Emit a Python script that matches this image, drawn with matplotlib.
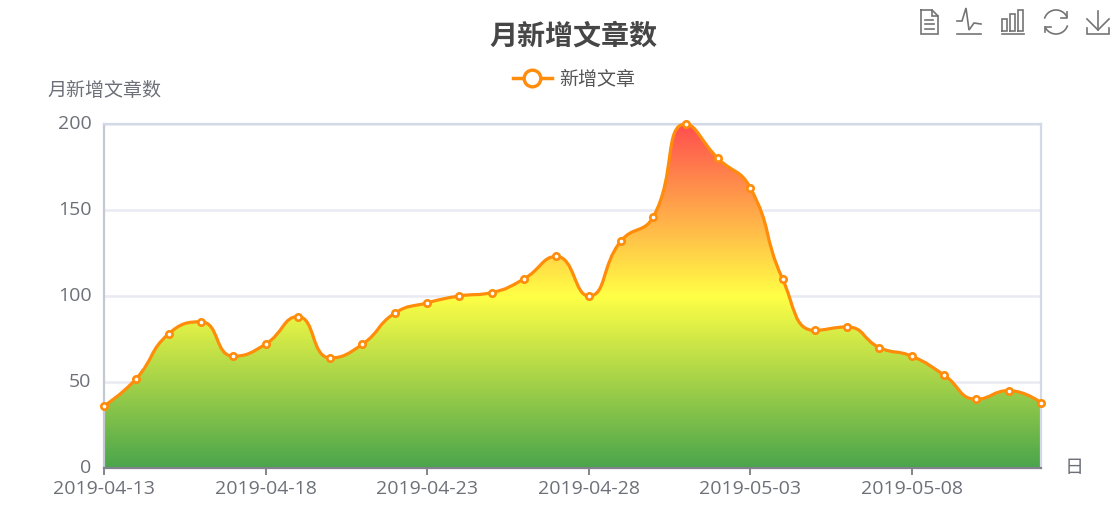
#!/usr/bin/env python3
import numpy as np
import matplotlib
matplotlib.use("Agg")
import matplotlib.pyplot as plt
from matplotlib.colors import LinearSegmentedColormap
from matplotlib.lines import Line2D
from matplotlib.patches import PathPatch
from matplotlib.path import Path

plt.rcParams["font.family"] = ["Noto Sans CJK SC", "DejaVu Sans"]

dates = [
    "2019-04-13", "2019-04-14", "2019-04-15", "2019-04-16", "2019-04-17", "2019-04-18",
    "2019-04-19", "2019-04-20", "2019-04-21", "2019-04-22", "2019-04-23", "2019-04-24",
    "2019-04-25", "2019-04-26", "2019-04-27", "2019-04-28", "2019-04-29", "2019-04-30",
    "2019-05-01", "2019-05-02", "2019-05-03", "2019-05-04", "2019-05-05", "2019-05-06",
    "2019-05-07", "2019-05-08", "2019-05-09", "2019-05-10", "2019-05-11", "2019-05-12",
]
counts = [36, 52, 78, 85, 65, 72, 88, 64, 72, 90, 96, 100, 102, 110, 123,
          100, 132, 146, 200, 180, 163, 110, 80, 82, 70, 65, 54, 40, 45, 38]
y_ticks = [0, 50, 100, 150, 200]

W, H = 1120, 513
LEFT, RIGHT, TOP, BOTTOM = 104, 1041, 124, 468
ORANGE = "#ff8c0a"
TEXT = "#6e7079"


def smooth_path(x, y, sx, sy, smooth=0.5):
    # echarts style bezier in pixel space, control points kept inside the neighbour box
    pts = np.column_stack([np.asarray(x, dtype=float) * sx, np.asarray(y, dtype=float) * sy])
    n = len(pts)
    verts = [tuple(pts[0])]
    codes = [Path.MOVETO]
    cp_out = pts[0]
    for i in range(1, n):
        p = pts[i]
        if i < n - 1:
            prev_p, next_p = pts[i - 1], pts[i + 1]
            v = (next_p - prev_p) * smooth
            len_prev = np.hypot(*(p - prev_p))
            len_next = np.hypot(*(next_p - p))
            r = len_next / (len_prev + len_next)
            next_out = np.clip(p + v * r, np.minimum(p, next_p), np.maximum(p, next_p))
            cp_in = p - (next_out - p) * len_prev / len_next
            cp_in = np.clip(cp_in, np.minimum(p, prev_p), np.maximum(p, prev_p))
            next_out = p + (p - cp_in) * len_next / len_prev
        else:
            cp_in = p
            next_out = p
        verts += [tuple(cp_out), tuple(cp_in), tuple(p)]
        codes += [Path.CURVE4] * 3
        cp_out = next_out
    verts = [(vx / sx, vy / sy) for vx, vy in verts]
    return verts, codes


fig = plt.figure(figsize=(W / 100, H / 100), dpi=100)
ax = fig.add_axes([LEFT / W, 1 - BOTTOM / H, (RIGHT - LEFT) / W, (BOTTOM - TOP) / H])

xs = np.arange(len(counts))
ax.set_xlim(0, len(counts) - 1)
ax.set_ylim(0, 200)

sx = (RIGHT - LEFT) / (len(counts) - 1)
sy = (BOTTOM - TOP) / 200
verts, codes = smooth_path(xs, counts, sx, sy)

# area under the curve, gradient red -> yellow -> green
cmap = LinearSegmentedColormap.from_list("area", ["#ff4f4f", "#ffff45", "#4aa54c"])
grad = np.linspace(0, 1, 256).reshape(-1, 1)
im = ax.imshow(grad, cmap=cmap, aspect="auto", extent=(0, len(counts) - 1, 0, 200),
               origin="upper", zorder=2)
area = Path(verts + [(xs[-1], 0), (xs[0], 0), verts[0]],
            codes + [Path.LINETO, Path.LINETO, Path.CLOSEPOLY])
clip = PathPatch(area, transform=ax.transData, facecolor="none", edgecolor="none")
ax.add_patch(clip)
im.set_clip_path(clip)

ax.add_patch(PathPatch(Path(verts, codes), facecolor="none", edgecolor=ORANGE,
                       linewidth=2.3, zorder=3, clip_on=False, capstyle="round"))
ax.plot(xs, counts, linestyle="none", marker="o", markersize=4.6, markerfacecolor="white",
        markeredgecolor=ORANGE, markeredgewidth=1.9, zorder=4, clip_on=False)

ax.set_yticks(y_ticks)
ax.set_yticklabels([str(v) for v in y_ticks], family="Open Sans", va="center")
ax.set_xticks(xs[::5])
ax.set_xticklabels(dates[::5], family="Open Sans")
ax.grid(axis="y", color="#e8ebf3", linewidth=1.8, zorder=1)
ax.set_axisbelow(True)
ax.tick_params(axis="y", length=0, pad=9, labelsize=14, labelcolor=TEXT)
ax.tick_params(axis="x", length=5, width=1.2, color=TEXT, pad=3.5, labelsize=14, labelcolor=TEXT)
for side in ["top", "right"]:
    ax.spines[side].set_color("#d3d9e6")
    ax.spines[side].set_linewidth(1.6)
ax.spines["left"].set_color("#c4c8d2")
ax.spines["left"].set_linewidth(1.6)
ax.spines["bottom"].set_color("#80838c")
ax.spines["bottom"].set_linewidth(1.6)
ax.spines["bottom"].set_zorder(5)

# overlay in pixel coordinates for titles and toolbox
ov = fig.add_axes([0, 0, 1, 1], facecolor="none")
ov.set_xlim(0, W)
ov.set_ylim(H, 0)
ov.axis("off")

ov.text(573, 37, "月新增文章数", ha="center", va="center", fontsize=20.2, fontweight="bold", color="#464646")
ov.text(104, 91, "月新增文章数", ha="center", va="center", fontsize=13.7, color=TEXT)
ov.text(1074, 468, "日", ha="center", va="center", fontsize=13.7, color=TEXT)

handle = Line2D([], [], color=ORANGE, linewidth=2.5, marker="o", markersize=12,
                markerfacecolor="white", markeredgecolor=ORANGE, markeredgewidth=2.4)
fig.legend([handle], ["新增文章"], loc="center", bbox_to_anchor=(574 / W, 1 - 79.5 / H), frameon=False,
           fontsize=13.7, labelcolor="#555555", handlelength=2.05, handletextpad=0.4)

# toolbox icons
ICON = "#747474"
icon_lines = [
    # data view
    [(921, 10), (932, 10), (938, 16), (938, 34), (921, 34), (921, 10)],
    [(932, 10), (932, 16), (938, 16)],
    [(925, 20), (933, 20)], [(925, 24), (934, 24)], [(925, 29), (934, 29)],
    # line
    [(957, 21), (962, 21), (966, 8), (969, 30), (974, 23), (981, 24)],
    [(957, 34), (981, 34)],
    # bar
    [(1002, 34), (1024, 34)],
    [(1002, 31), (1002, 19), (1007, 19), (1007, 31), (1002, 31)],
    [(1010, 31), (1010, 14), (1015, 14), (1015, 31), (1010, 31)],
    [(1018, 31), (1018, 10), (1023, 10), (1023, 31), (1018, 31)],
    # download
    [(1098, 11), (1098, 30)],
    [(1087, 19), (1098, 30), (1109, 19)],
    [(1087, 28), (1087, 34), (1109, 34), (1109, 28)],
]
for line in icon_lines:
    px, py = zip(*line)
    ov.plot(px, py, color=ICON, linewidth=1.2, solid_joinstyle="miter")

# restore: two arcs with small arrow heads
t1 = np.radians(np.linspace(200, 335, 30))
t2 = np.radians(np.linspace(20, 155, 30))
ov.plot(1056 + 12 * np.cos(t1), 22 + 12 * np.sin(t1), color=ICON, linewidth=1.2)
ov.plot(1056 + 12 * np.cos(t2), 22 + 12 * np.sin(t2), color=ICON, linewidth=1.2)
ov.plot([1067, 1067, 1061], [12, 18, 18], color=ICON, linewidth=1.2)
ov.plot([1045, 1045, 1051], [32, 27, 27], color=ICON, linewidth=1.2)

fig.savefig("out.png", dpi=100)
